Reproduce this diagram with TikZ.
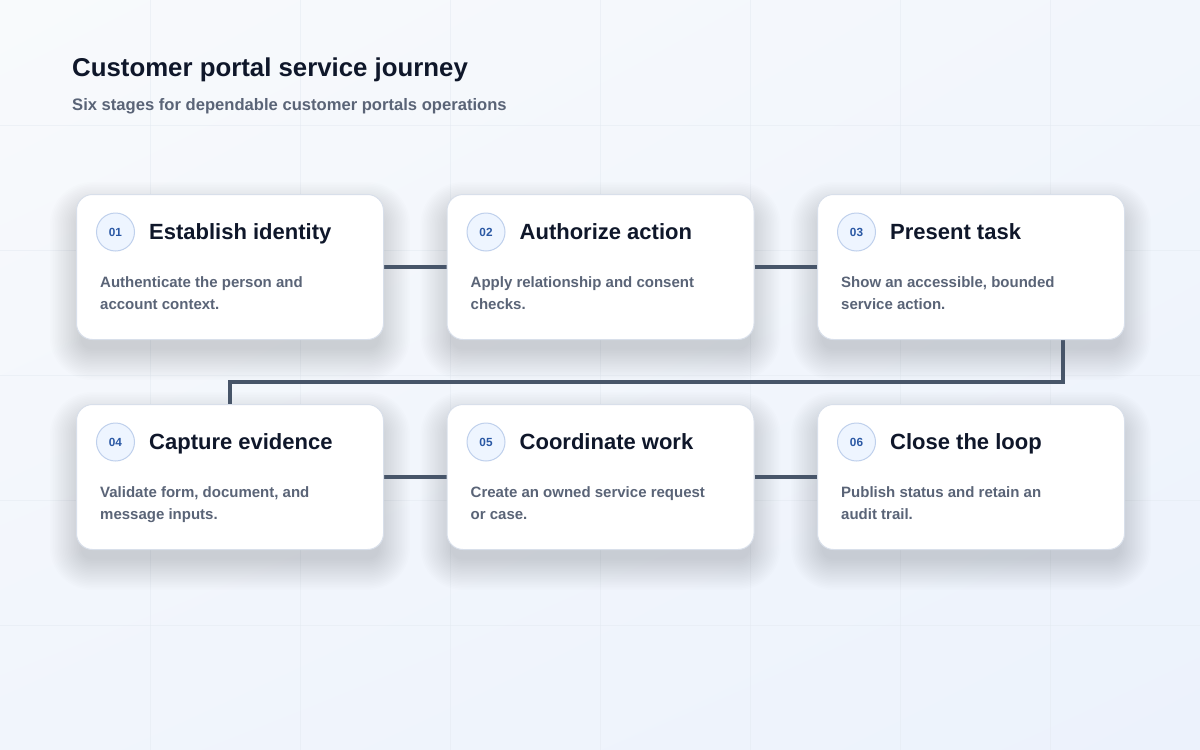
\documentclass[tikz,border=0pt]{standalone}
\usepackage{fontspec}
\setmainfont{Liberation Sans}
\usetikzlibrary{shadings}
\pgfdeclarelayer{bg}
\pgfdeclarelayer{wires}
\pgfsetlayers{bg,wires,main}
\definecolor{bgtl}{HTML}{F8FAFC}
\definecolor{bgbr}{HTML}{ECF2FC}
\definecolor{bgtr}{HTML}{F2F6FC}
\definecolor{bgbl}{HTML}{F1F5FC}
\definecolor{gridc}{HTML}{E4EAF2}
\definecolor{ink}{HTML}{0F172A}
\definecolor{muted}{HTML}{5A6477}
\definecolor{cardline}{HTML}{D8DFEA}
\definecolor{wire}{HTML}{475569}
\definecolor{badgefill}{HTML}{EEF5FF}
\definecolor{badgeline}{HTML}{BFD0EC}
\definecolor{badgetext}{HTML}{2A58A4}
\definecolor{shadowc}{HTML}{1E2A4A}
\tikzset{
  card/.style={draw=cardline, line width=1pt, fill=white, rounded corners=16pt,
    minimum width=307pt, minimum height=145pt, anchor=north west, inner sep=0pt},
  badge/.style={circle, draw=badgeline, line width=1pt, fill=badgefill, minimum size=38pt, inner sep=0pt,
    font=\fontsize{11.8}{14}\selectfont\bfseries, text=badgetext},
  stagetitle/.style={anchor=base west, inner sep=0pt, font=\fontsize{22}{26}\selectfont\bfseries, text=ink},
  stagedesc/.style={anchor=north west, inner sep=0pt, align=left, font=\fontsize{15}{22}\selectfont\bfseries, text=muted},
  wireline/.style={draw=wire, line width=4pt},
  gridline/.style={gridc, line width=0.8pt, opacity=0.5},
}
\begin{document}
\begin{tikzpicture}[x=1pt,y=-1pt]
\useasboundingbox (0,0) rectangle (1200,750);
\begin{pgfonlayer}{bg}
\shade[upper left=bgtl, upper right=bgtr, lower left=bgbl, lower right=bgbr] (0,0) rectangle (1200,750);
\foreach \gx in {150,300,...,1050} \draw[gridline] (\gx,0) -- (\gx,750);
\foreach \gy in {125,250,...,625} \draw[gridline] (0,\gy) -- (1200,\gy);
\end{pgfonlayer}

\node[anchor=base west, inner sep=0pt, font=\fontsize{25.8}{30}\selectfont\bfseries, text=ink] (title) at (72,76) {Customer portal service journey};
\node[anchor=base west, inner sep=0pt, font=\fontsize{16.6}{20}\selectfont\bfseries, text=muted] (subtitle) at (72,110) {Six stages for dependable customer portals operations};

\foreach \name/\cx/\cy/\num/\ttl/\dsc in {
  s1/76/194/01/Establish identity/{Authenticate the person and\\account context.},
  s2/446.5/194/02/Authorize action/{Apply relationship and consent\\checks.},
  s3/817/194/03/Present task/{Show an accessible, bounded\\service action.},
  s4/76/404/04/Capture evidence/{Validate form, document, and\\message inputs.},
  s5/446.5/404/05/Coordinate work/{Create an owned service request\\or case.},
  s6/817/404/06/Close the loop/{Publish status and retain an\\audit trail.}}
{
  \node[card] (\name) at (\cx,\cy) {};
  \begin{pgfonlayer}{bg}
    \foreach \i in {1,...,20} {
      \pgfmathsetmacro\e{\i*1.6-6}
      \pgfmathsetmacro\rr{max(16+\e,4)}
      \fill[shadowc, fill opacity=0.0065, rounded corners=\rr pt]
        ([xshift=-\e pt, yshift=-14pt+\e pt]\name.north west) rectangle
        ([xshift=\e pt, yshift=-14pt-\e pt]\name.south east);
    }
  \end{pgfonlayer}
  \node[badge] (\name-badge) at ([xshift=39.5pt,yshift=-38pt]\name.north west) {\num};
  \node[stagetitle] (\name-title) at ([xshift=73pt,yshift=-45.5pt]\name.north west) {\ttl};
  \node[stagedesc] (\name-desc) at ([xshift=24pt,yshift=-82pt]\name.north west) {\dsc};
}

\coordinate (bendy) at (0,382);
\coordinate (s3out) at ([xshift=-62pt]s3.south east);
\begin{pgfonlayer}{wires}
\draw[wireline] (s1.east) -- (s2.west);
\draw[wireline] (s2.east) -- (s3.west);
\draw[wireline] (s4.east) -- (s5.west);
\draw[wireline] (s5.east) -- (s6.west);
\draw[wireline, line join=miter] (s3out) -- (s3out |- bendy) -- (s4.north |- bendy) -- (s4.north);
\end{pgfonlayer}
\end{tikzpicture}
\end{document}
